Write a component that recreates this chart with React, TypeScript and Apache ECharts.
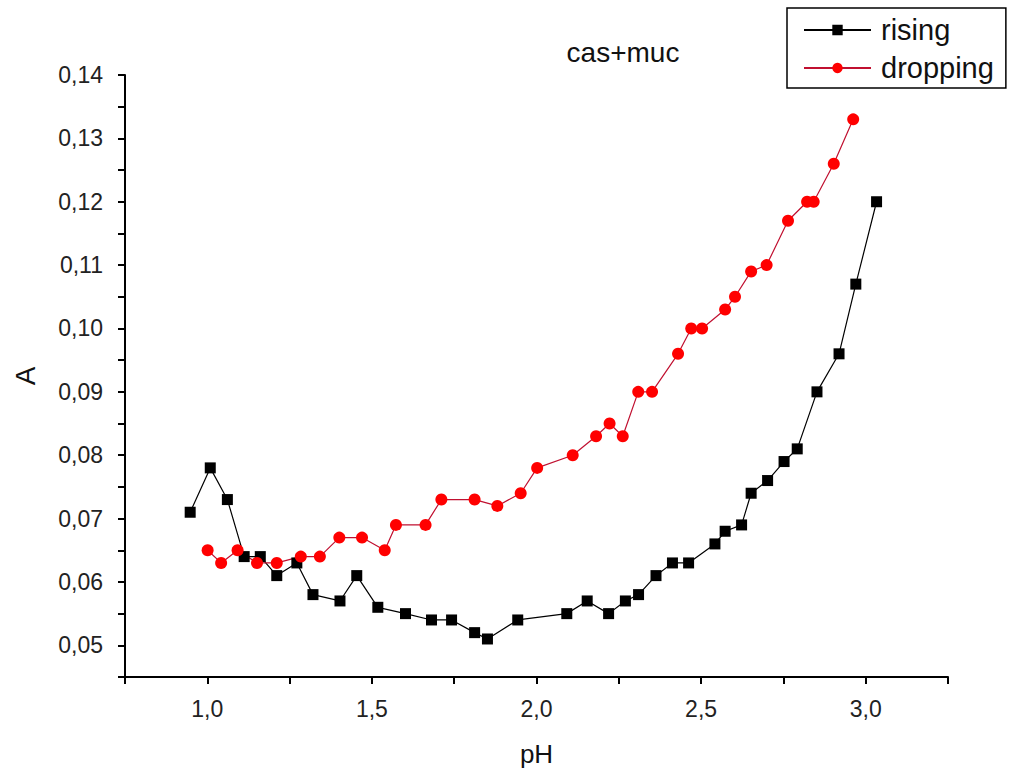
import React, { useEffect, useRef } from "react";
import * as echarts from "echarts";

const risingX = [0.948, 1.009, 1.061, 1.112, 1.161, 1.211, 1.272, 1.321, 1.403, 1.454, 1.518, 1.602, 1.681, 1.742, 1.812, 1.851, 1.943, 2.092, 2.154, 2.219, 2.27, 2.31, 2.363, 2.413, 2.462, 2.542, 2.573, 2.623, 2.652, 2.702, 2.752, 2.792, 2.852, 2.919, 2.97, 3.033];
const risingY = [0.071, 0.078, 0.073, 0.064, 0.064, 0.061, 0.063, 0.058, 0.057, 0.061, 0.056, 0.055, 0.054, 0.054, 0.052, 0.051, 0.054, 0.055, 0.057, 0.055, 0.057, 0.058, 0.061, 0.063, 0.063, 0.066, 0.068, 0.069, 0.074, 0.076, 0.079, 0.081, 0.090, 0.096, 0.107, 0.120];
const droppingX = [1.001, 1.042, 1.092, 1.151, 1.211, 1.284, 1.342, 1.401, 1.47, 1.539, 1.573, 1.663, 1.711, 1.812, 1.881, 1.952, 2.002, 2.11, 2.181, 2.222, 2.262, 2.309, 2.351, 2.43, 2.47, 2.503, 2.573, 2.603, 2.652, 2.699, 2.764, 2.822, 2.842, 2.903, 2.962];
const droppingY = [0.065, 0.063, 0.065, 0.063, 0.063, 0.064, 0.064, 0.067, 0.067, 0.065, 0.069, 0.069, 0.073, 0.073, 0.072, 0.074, 0.078, 0.080, 0.083, 0.085, 0.083, 0.090, 0.090, 0.096, 0.100, 0.100, 0.103, 0.105, 0.109, 0.110, 0.117, 0.120, 0.120, 0.126, 0.133];

const seriesNames = ["rising", "dropping"];
const titleText = "cas+muc";
const xName = "pH";
const yName = "A";

const FONT = "Liberation Sans, Arial, sans-serif";

export default function App() {
  const ref = useRef<HTMLDivElement>(null);
  useEffect(() => {
    const chart = echarts.init(ref.current!, null, { renderer: "svg" });
    const pairs = (xs: number[], ys: number[]) => xs.map((x, i) => [x, ys[i]]);
    chart.setOption({
      animation: false,
      backgroundColor: "#ffffff",
      title: {
        text: titleText,
        left: 618,
        top: 33,
        textAlign: "center",
        textStyle: { fontFamily: FONT, fontSize: 28, fontWeight: "normal", color: "#111" },
      },
      legend: {
        orient: "vertical",
        left: 787,
        top: 8,
        padding: [7, 12, 5, 16],
        itemGap: 8,
        itemWidth: 67,
        itemHeight: 13,
        borderColor: "#000",
        borderWidth: 1.5,
        borderRadius: 0,
        textStyle: { fontFamily: FONT, fontSize: 29, lineHeight: 30, color: "#111", padding: [0, 0, 0, 5] },
        data: seriesNames,
      },
      grid: { left: 125, top: 75, right: 64, bottom: 92 },
      xAxis: {
        type: "value",
        min: 0.75,
        max: 3.25,
        interval: 0.25,
        name: xName,
        nameLocation: "middle",
        nameGap: 64,
        nameTextStyle: { fontFamily: FONT, fontSize: 26, color: "#111" },
        axisLine: { show: true, lineStyle: { color: "#000", width: 2 } },
        axisTick: { show: true, inside: false, length: 7, lineStyle: { color: "#000", width: 2 } },
        axisLabel: {
          fontFamily: FONT,
          fontSize: 23,
          color: "#222",
          margin: 20,
          formatter: (v: number) => {
            const r = Math.round(v * 100);
            return r % 50 === 0 && v > 0.8 ? v.toFixed(1).replace(".", ",") : "";
          },
        },
        splitLine: { show: false },
      },
      yAxis: {
        type: "value",
        min: 0.045,
        max: 0.14,
        interval: 0.005,
        name: yName,
        nameLocation: "middle",
        nameGap: 86,
        nameRotate: 90,
        nameTextStyle: { fontFamily: FONT, fontSize: 28, color: "#111" },
        axisLine: { show: true, lineStyle: { color: "#000", width: 2 } },
        axisTick: { show: true, inside: false, length: 7, lineStyle: { color: "#000", width: 2 } },
        axisLabel: {
          fontFamily: FONT,
          fontSize: 23,
          color: "#222",
          margin: 22,
          formatter: (v: number) => {
            const r = Math.round(v * 1000);
            return r % 10 === 0 ? v.toFixed(2).replace(".", ",") : "";
          },
        },
        splitLine: { show: false },
      },
      series: [
        {
          name: seriesNames[0],
          type: "line",
          data: pairs(risingX, risingY),
          symbol: "rect",
          symbolSize: 11,
          itemStyle: { color: "#000" },
          lineStyle: { color: "#000", width: 1.2 },
        },
        {
          name: seriesNames[1],
          type: "line",
          data: pairs(droppingX, droppingY),
          symbol: "circle",
          symbolSize: 12,
          itemStyle: { color: "#ff0000" },
          lineStyle: { color: "#c01030", width: 1.2 },
        },
      ],
    });
    return () => chart.dispose();
  }, []);
  return (
    <div
      ref={ref}
      style={{ position: "absolute", left: 0, top: 0, width: 1012, height: 772 }}
    />
  );
}
